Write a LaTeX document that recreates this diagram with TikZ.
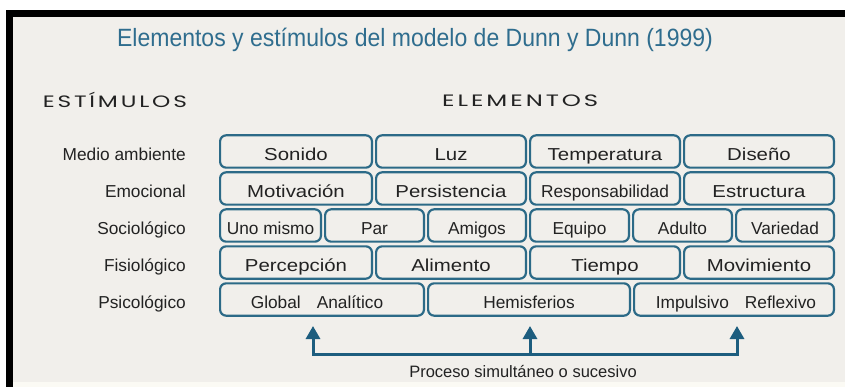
\documentclass[tikz,border=0pt]{standalone}
\usepackage{fontspec}
\setmainfont{Liberation Sans}
\newfontfamily\geofont{Poppins}
\usetikzlibrary{arrows.meta}
\definecolor{bgc}{HTML}{F1EFEB}
\definecolor{stripc}{HTML}{FBFAF4}
\definecolor{boxc}{HTML}{2C6A87}
\definecolor{titlec}{HTML}{2F6D8E}
\definecolor{arrc}{HTML}{1D5D7E}
\definecolor{txtc}{HTML}{222222}
\newcommand\stretchtxt[1]{\scalebox{1.18}[1]{#1}}
\newcommand\mkcell[5]{%
  \pgfmathsetmacro\mycw{#3-#2-2.2}%
  \pgfmathsetmacro\mycx{(#2+#3)/2}%
  \node[cellbox, minimum width=\mycw pt] (#1) at (\mycx,#4) {#5};}
\tikzset{
  cellbox/.style={draw=boxc, line width=2.2pt, rounded corners=6pt, fill=bgc,
    inner sep=0pt, minimum height=32.3pt, text height=18pt, text depth=0pt,
    font=\fontsize{17.3}{20}\selectfont, text=txtc},
  rowlabel/.style={anchor=base east, inner sep=0pt, font=\fontsize{17.3}{20}\selectfont, text=txtc},
  arr/.style={draw=arrc, line width=3pt},
  header/.style={anchor=base west, inner sep=0pt, text=txtc, font=\geofont\fontsize{16.5}{20}\selectfont},
}
\begin{document}
\begin{tikzpicture}[x=1pt,y=-1pt]
\useasboundingbox (0,0) rectangle (845,387);
\fill[white] (0,0) rectangle (845,387);
\fill[bgc] (13,17) rectangle (845,382);
\fill[stripc] (13,382) rectangle (845,387);
\fill[black] (6,10) rectangle (845,17);
\fill[black] (6,10) rectangle (13,387);

% title
\node[anchor=base, inner sep=0pt, text=titlec, font=\fontsize{25}{30}\selectfont] (title) at (415,47)
  {\scalebox{0.92}[1]{Elementos y estímulos del modelo de Dunn y Dunn (1999)}};

% headers
\node[header] (estim) at (42.7,107.3)
  {\resizebox{144pt}{\height}{E\kern2pt S\kern2pt T\kern2pt Í\kern2pt M\kern2pt U\kern2pt L\kern2pt O\kern2pt S}};
\node[header] (elem) at (442,106.5)
  {\resizebox{156pt}{\height}{E\kern2pt L\kern2pt E\kern2pt M\kern2pt E\kern2pt N\kern2pt T\kern2pt O\kern2pt S}};

% row labels
\node[rowlabel] (l1) at (186,160.5) {Medio ambiente};
\node[rowlabel] (l2) at (186,197.5) {Emocional};
\node[rowlabel] (l3) at (186,234.5) {Sociológico};
\node[rowlabel] (l4) at (186,271.5) {Fisiológico};
\node[rowlabel] (l5) at (186,308.5) {Psicológico};

% row 1
\mkcell{c11}{219}{373}{151.5}{\stretchtxt{Sonido}}
\mkcell{c12}{375}{527}{151.5}{\stretchtxt{Luz}}
\mkcell{c13}{529}{681}{151.5}{\stretchtxt{Temperatura}}
\mkcell{c14}{683}{835}{151.5}{\stretchtxt{Diseño}}
% row 2
\mkcell{c21}{219}{373}{188.5}{\stretchtxt{Motivación}}
\mkcell{c22}{375}{527}{188.5}{\stretchtxt{Persistencia}}
\mkcell{c23}{529}{681}{188.5}{Responsabilidad}
\mkcell{c24}{683}{835}{188.5}{\stretchtxt{Estructura}}
% row 3
\mkcell{c31}{219}{322}{225.5}{Uno mismo}
\mkcell{c32}{324}{425}{225.5}{Par}
\mkcell{c33}{427}{527}{225.5}{Amigos}
\mkcell{c34}{529}{630}{225.5}{Equipo}
\mkcell{c35}{632}{733}{225.5}{Adulto}
\mkcell{c36}{735}{835}{225.5}{Variedad}
% row 4
\mkcell{c41}{219}{373}{262.5}{\stretchtxt{Percepción}}
\mkcell{c42}{375}{527}{262.5}{\stretchtxt{Alimento}}
\mkcell{c43}{529}{681}{262.5}{\stretchtxt{Tiempo}}
\mkcell{c44}{683}{835}{262.5}{\stretchtxt{Movimiento}}
% row 5
\mkcell{c51}{219}{425}{299.5}{\hspace*{-10pt}Global\hspace{16pt}Analítico}
\mkcell{c52}{427}{631}{299.5}{Hemisferios}
\mkcell{c53}{633}{835}{299.5}{\hspace*{4pt}Impulsivo\hspace{16pt}Reflexivo}

% arrows
\coordinate (p1) at (313,354);
\coordinate (p2) at (530,354);
\coordinate (p3) at (737,354);
\coordinate (t1) at (313,326);
\coordinate (t2) at (530,326);
\coordinate (t3) at (737,326);
\draw[arr, {Triangle[width=14pt,length=13pt]}-{Triangle[width=14pt,length=13pt]}] (t1) -- (p1) -- (p3) -- (t3);
\draw[arr, -{Triangle[width=14pt,length=13pt]}] (p2) -- (t2);

\node[anchor=base, inner sep=0pt, text=txtc, font=\fontsize{16.5}{20}\selectfont] (proc) at (523,377)
  {Proceso simultáneo o sucesivo};
\end{tikzpicture}
\end{document}
